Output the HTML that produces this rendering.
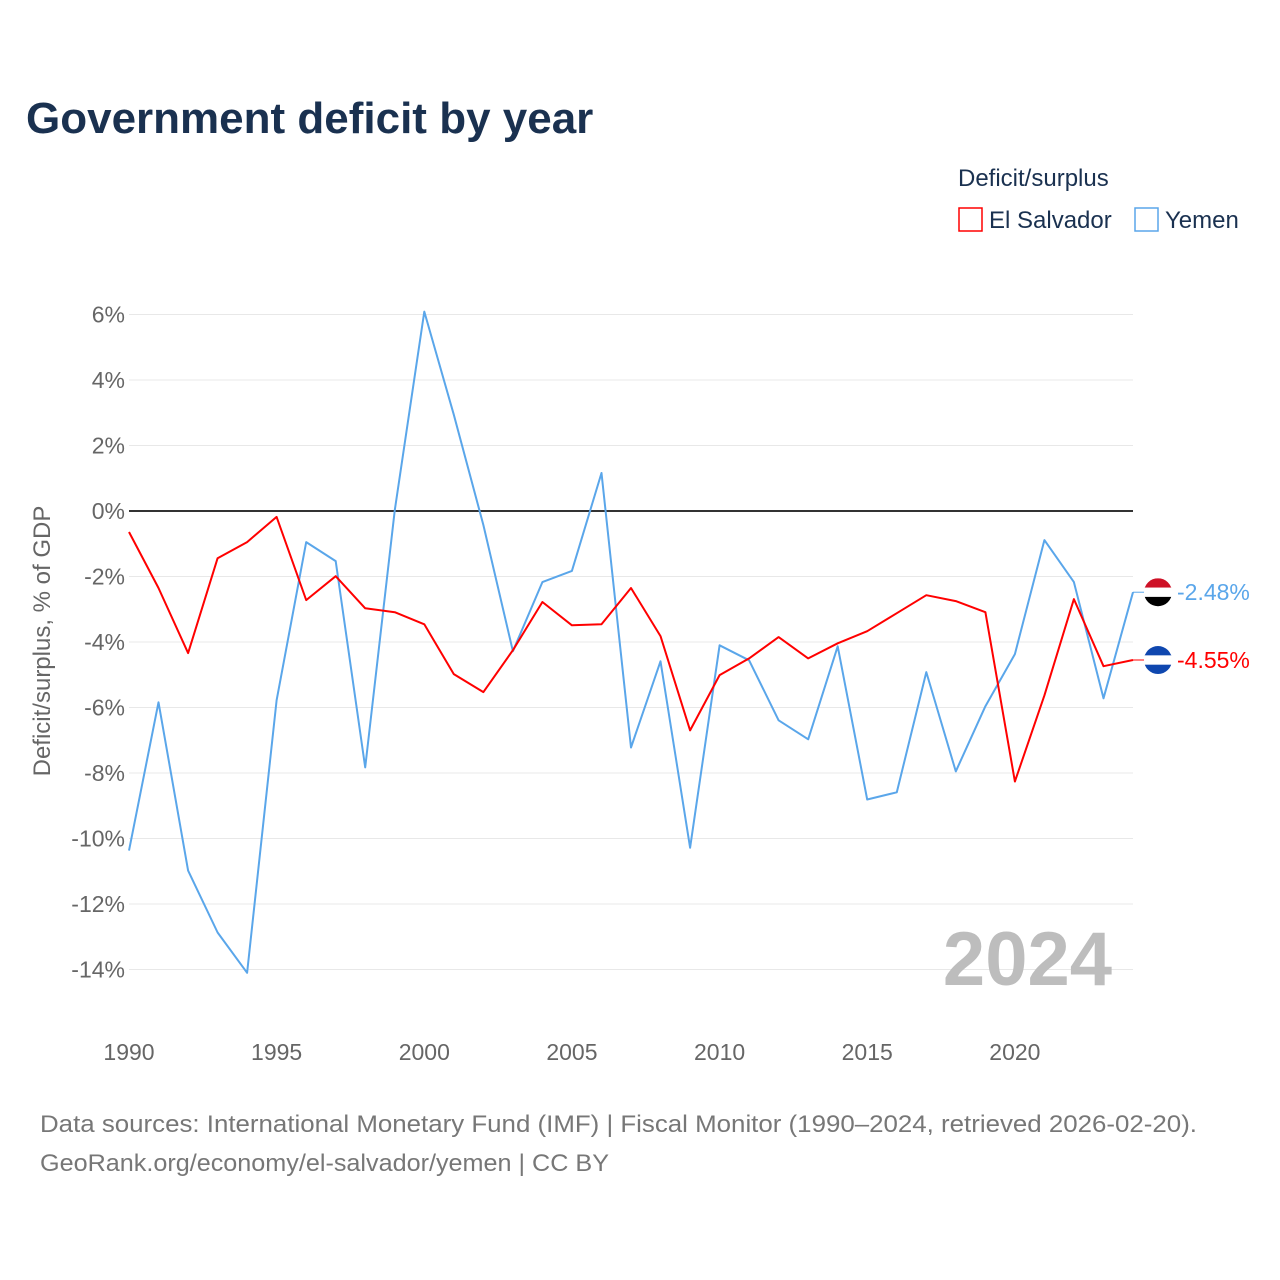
<!DOCTYPE html>
<html><head><meta charset="utf-8">
<style>
body{margin:0;background:#fff;font-family:"Liberation Sans",sans-serif;}
#wrap{position:relative;width:1280px;height:1280px;overflow:hidden;}
</style></head>
<body>
<div id="wrap">
<svg id="chart" width="1280" height="1280"></svg>
</div>
<script>
const years = [];
for (let y = 1990; y <= 2024; y++) years.push(y);
const elSalvador = [-0.64,-2.35,-4.34,-1.44,-0.95,-0.18,-2.72,-1.99,-2.97,-3.09,-3.46,-4.98,-5.53,-4.25,-2.78,-3.49,-3.46,-2.35,-3.82,-6.70,-5.01,-4.50,-3.85,-4.50,-4.04,-3.67,-3.12,-2.57,-2.75,-3.09,-8.26,-5.63,-2.69,-4.74,-4.55];
const yemen = [-10.37,-5.84,-10.98,-12.87,-14.10,-5.78,-0.95,-1.53,-7.83,0.03,6.09,2.94,-0.43,-4.28,-2.17,-1.83,1.16,-7.22,-4.59,-10.28,-4.10,-4.56,-6.39,-6.97,-4.13,-8.81,-8.59,-4.92,-7.95,-5.96,-4.37,-0.89,-2.17,-5.72,-2.48];
const yTicks = [6,4,2,0,-2,-4,-6,-8,-10,-12,-14];
const xTicks = [1990,1995,2000,2005,2010,2015,2020];

const NS = "http://www.w3.org/2000/svg";
const svg = document.getElementById('chart');
const X0 = 129, X1 = 1133;
const xs = y => X0 + (y - 1990) * (X1 - X0) / 34;
const ys = v => 511 - v * 32.75;
function el(tag, attrs, parent) {
  const e = document.createElementNS(NS, tag);
  for (const k in attrs) e.setAttribute(k, attrs[k]);
  (parent || svg).appendChild(e);
  return e;
}
function txt(s, attrs) { const t = el('text', attrs); t.textContent = s; return t; }

let t = txt('Government deficit by year', {x:26, y:133, 'font-size':44, 'font-weight':'bold', fill:'#1a3150'});



t = txt('Deficit/surplus', {x:958, y:186, 'font-size':24, fill:'#1a3150'});


let r = el('rect', {x:959, y:208, width:23, height:23, fill:'none', stroke:'#ff0000', 'stroke-width':1.5});


t = txt('El Salvador', {x:989, y:228, 'font-size':24, fill:'#1a3150'});


r = el('rect', {x:1135, y:208, width:23, height:23, fill:'none', stroke:'#5aa6ea', 'stroke-width':1.5});


t = txt('Yemen', {x:1165, y:228, 'font-size':24, fill:'#1a3150'});



yTicks.forEach(v => {
  const g = el('line', {x1:X0, x2:X1, y1:ys(v), y2:ys(v), stroke: v===0 ? '#333' : '#e8e8e8', 'stroke-width': v===0 ? 2 : 1});
  
  
  const l = txt(v + '%', {x:125, y:ys(v)+8, 'font-size':23, fill:'#666', 'text-anchor':'end'});
  
  
});
xTicks.forEach(y => {
  const l = txt(String(y), {x:xs(y), y:1060, 'font-size':23, fill:'#666', 'text-anchor':'middle'});
  
  
});
t = txt('Deficit/surplus, % of GDP', {x:0, y:0, 'font-size':24, fill:'#666', 'text-anchor':'middle', transform:'translate(50,641) rotate(-90)'});



t = txt('2024', {x:1112, y:985, 'font-size':76, 'font-weight':'bold', fill:'#bdbdbd', 'text-anchor':'end'});



function series(vals, color, name) {
  const d = vals.map((v,i) => (i ? 'L' : 'M') + xs(years[i]).toFixed(1) + ',' + ys(v).toFixed(1)).join(' ');
  const p = el('path', {d, fill:'none', stroke:color, 'stroke-width':2, 'stroke-linejoin':'round'});
  
  
}
series(yemen, '#5aa6ea', 'yemen');
series(elSalvador, '#ff0000', 'el-salvador');

function endLabel(v, color, name, flag) {
  const y = ys(v);
  el('line', {x1:X1, x2:1145, y1:y, y2:y, stroke:color, 'stroke-width':1});
  const g = el('g', {});
  
  
  const cp = 'cp-' + name;
  const c = el('clipPath', {id:cp}, g);
  el('circle', {cx:1158, cy:y, r:14}, c);
  flag.forEach((col, i) => el('rect', {x:1144, y:y-14+i*28/3, width:28, height:28/3+0.5, fill:col, 'clip-path':'url(#'+cp+')'}, g));
  const l = txt(v.toFixed(2) + '%', {x:1177, y:y+8, 'font-size':23, fill:color});
  
  
}
endLabel(yemen[yemen.length-1], '#5aa6ea', 'yemen', ['#ce1126','#ffffff','#000000']);
endLabel(elSalvador[elSalvador.length-1], '#ff0000', 'el-salvador', ['#0f47af','#ffffff','#0f47af']);

t = txt('Data sources: International Monetary Fund (IMF) | Fiscal Monitor (1990–2024, retrieved 2026-02-20).', {x:40, y:1132, 'font-size':24, fill:'#777', textLength:1157, lengthAdjust:'spacingAndGlyphs'});


t = txt('GeoRank.org/economy/el-salvador/yemen | CC BY', {x:40, y:1171, 'font-size':24, fill:'#777', textLength:569, lengthAdjust:'spacingAndGlyphs'});


</script>
</body></html>
